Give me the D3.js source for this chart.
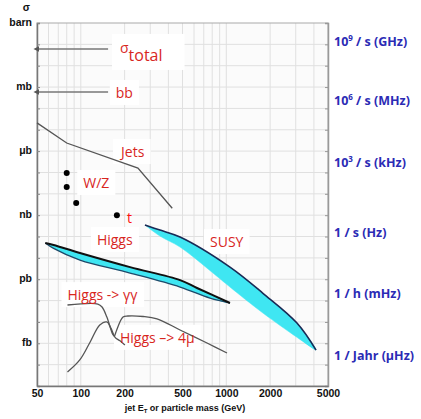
<!DOCTYPE html>
<html>
<head>
<meta charset="utf-8">
<script src="https://cdn.jsdelivr.net/npm/d3@7"></script>
<style>
  body { margin: 0; background: #fff; }
  svg { display: block; }
  .unit { font-family: "Liberation Sans", Arial, sans-serif; font-weight: bold; font-size: 10.5px; fill: #111; }
  .xtitle { font-family: "Liberation Sans", Arial, sans-serif; font-weight: bold; font-size: 9px; fill: #111; }
  .rate { font-family: "Open Sans", "Noto Sans", sans-serif; font-weight: bold; font-size: 12.5px; fill: #2b2bb5; }
  .lbl { font-family: "Open Sans", "Noto Sans", sans-serif; font-size: 14px; fill: #d8261e; }
</style>
</head>
<body>
<div id="chart"></div>
<script>
// --- Data (cross sections in pb, masses / E_T in GeV) ---
const xTicks = [50, 100, 200, 500, 1000, 2000, 5000];
const unitLabels = ["barn", "mb", "\u03bcb", "nb", "pb", "fb"];
const unitValues = [1e12, 1e9, 1e6, 1e3, 1, 1e-3];

// rate labels on the right (position given as equivalent sigma)
const rateLabels = [["10", "9", " / s (GHz)"], ["10", "6", " / s (MHz)"], ["10", "3", " / s (kHz)"],
                    ["1 / s (Hz)"], ["1 / h (mHz)"], ["1 / Jahr (\u03bcHz)"]];
const rateSigma = [1.3e11, 2.2e8, 2.8e5, 1.4e2, 0.2, 2.5e-4];

const sigmaTotal = 6.1e10;
const sigmaBB = 5.9e8;
const arrowFrom = 154; // GeV where the arrow lines start

const jets = [[50, 2.1e7], [80, 2.4e6], [247, 1.6e5], [425, 2.1e3]];
const wzPoints = [[80, 9.4e4], [80, 2.1e4], [93, 3.7e3]];
const topPoint = [177, 1e3];

const higgsUpper = [[57, 50], [65, 40], [98.7, 17], [218, 3.7], [481, 0.91], [629, 0.39], [1060, 0.077]];
const higgsLower = [[65, 28], [98.7, 7.9], [218, 1.95], [481, 0.43], [773, 0.13]];

const susyUpper = [[276, 346], [350, 200], [481, 95], [1060, 3.7], [1786, 0.22], [3060, 0.0089], [4140, 4.8e-4]];
const susyLower = [[350, 105], [481, 32], [810, 1.95], [1060, 0.43], [1786, 0.026], [3060, 0.0019]];

const higgsGG = [[81, 0.062], [131, 0.069], [140, 0.05], [151, 0.017], [166, 0.0026], [170, 0.0022],
                 [176, 0.004], [195, 0.017], [211, 0.019], [268, 0.018], [334, 0.014], [481, 0.0042],
                 [737, 0.00103], [1011, 3.5e-4]];
const higgs4mu = [[81, 4.5e-5], [98.7, 1.7e-4], [116, 1.15e-3], [135, 7.2e-3], [151, 0.010],
                  [161, 0.0051], [172, 0.0019], [186, 0.0013], [201, 8.3e-4]];

// label anchors (left edge in GeV, vertical centre in pb)
const labelData = [
    { text: "Jets", gev: 189, pb: 9.1e5 },
    { text: "W/Z", gev: 104, pb: 3.2e4, size: 15 },
    { text: "Higgs", gev: 129, pb: 69 },
    { text: "SUSY", gev: 773, pb: 55 },
    { text: "Higgs -> \u03b3\u03b3", gev: 81, pb: 0.18, size: 15 },
    { text: "Higgs \u2013> 4\u03bc", gev: 186, pb: 0.0018, size: 15 }
];

// --- Layout ---
const width = 421, height = 419;
const m = { left: 37, right: 328, top: 23, bottom: 386 };

const svg = d3.select("#chart").append("svg")
    .attr("width", width)
    .attr("height", height);

const x = d3.scaleLog().domain([50, 5000]).range([m.left, m.right]);
const y = d3.scaleLog().domain([1e-5, 1e12]).range([m.bottom, m.top]);

// --- Grid ---
const gridX = [];
[10, 100, 1000].forEach(d => { for (let k = 1; k < 10; k++) gridX.push(d * k); });
const gx = gridX.filter(v => v > 50 && v < 5000);
const gy = d3.range(-4, 12).map(e => Math.pow(10, e));

svg.append("rect")
    .attr("x", m.left).attr("y", m.top)
    .attr("width", m.right - m.left).attr("height", m.bottom - m.top)
    .attr("fill", "#fbfbfb");

svg.append("g").selectAll("line").data(gx).enter().append("line")
    .attr("x1", d => x(d)).attr("x2", d => x(d))
    .attr("y1", m.top).attr("y2", m.bottom)
    .attr("stroke", "#e0e0e0").attr("stroke-width", 1);

svg.append("g").selectAll("line").data(gy).enter().append("line")
    .attr("x1", m.left).attr("x2", m.right)
    .attr("y1", d => y(d)).attr("y2", d => y(d))
    .attr("stroke", "#e0e0e0").attr("stroke-width", 1);

// frame
svg.append("rect")
    .attr("x", m.left).attr("y", m.top)
    .attr("width", m.right - m.left).attr("height", m.bottom - m.top)
    .attr("fill", "none").attr("stroke", "#aaa").attr("stroke-width", 1);

// --- Axes ---
const yTicksAll = d3.range(-5, 13).map(e => Math.pow(10, e));
svg.append("g")
    .attr("transform", `translate(${m.left},0)`)
    .call(d3.axisRight(y).tickValues(yTicksAll).tickSize(3).tickFormat(""))
    .call(g => g.select(".domain").attr("stroke", "#777").attr("stroke-width", 1.5))
    .call(g => g.selectAll(".tick line").attr("stroke", "#888"));

svg.append("g")
    .attr("transform", `translate(${m.right},0)`)
    .call(d3.axisLeft(y).tickValues(yTicksAll).tickSize(3).tickFormat(""))
    .call(g => g.select(".domain").attr("stroke", "#999").attr("stroke-width", 1.5))
    .call(g => g.selectAll(".tick line").attr("stroke", "#999"));

svg.append("g")
    .attr("transform", `translate(0,${m.bottom})`)
    .call(d3.axisBottom(x).tickValues(xTicks).tickSize(0).tickPadding(4).tickFormat(d3.format("d")))
    .call(g => g.select(".domain").attr("stroke", "#777").attr("stroke-width", 1.5))
    .call(g => g.selectAll("text").attr("class", "unit").attr("font-size", null).attr("font-family", null).attr("fill", null));

const xTitle = svg.append("text")
    .attr("class", "xtitle")
    .attr("x", 185).attr("y", 411)
    .attr("text-anchor", "middle");
xTitle.append("tspan").text("jet E");
xTitle.append("tspan").attr("font-size", "6px").attr("dy", 2).text("T");
xTitle.append("tspan").attr("dy", -2).text(" or particle mass (GeV)");

// unit labels left
svg.append("g").selectAll("text").data(unitLabels).enter().append("text")
    .attr("class", "unit")
    .attr("x", 32)
    .attr("y", (d, i) => y(unitValues[i]) + 3)
    .attr("text-anchor", "end")
    .text(d => d);

svg.append("text")
    .attr("class", "unit")
    .attr("x", 30).attr("y", 11)
    .attr("text-anchor", "end")
    .attr("font-size", "7px")
    .text("\u03c3");

// rate labels right
svg.append("g").selectAll("text").data(rateLabels).enter().append("text")
    .attr("class", "rate")
    .attr("x", 334)
    .attr("y", (d, i) => y(rateSigma[i]) + 4)
    .each(function(d) {
        const t = d3.select(this);
        t.append("tspan").text(d[0]);
        if (d.length > 1) {
            t.append("tspan").attr("dy", -5).attr("font-size", "8px").text(d[1]);
            t.append("tspan").attr("dy", 5).text(d[2]);
        }
    });

// --- Label backgrounds + labels ---
const bgLayer = svg.append("g");
const markLayer = svg.append("g");
const textLayer = svg.append("g");

labelData.forEach(d => {
    const t = textLayer.append("text")
        .attr("class", "lbl")
        .attr("x", x(d.gev))
        .attr("y", y(d.pb) + 5)
        .attr("font-size", (d.size || 14) + "px")
        .text(d.text);
    const b = t.node().getBBox();
    bgLayer.append("rect")
        .attr("x", b.x - 6).attr("y", b.y - 3)
        .attr("width", b.width + 12).attr("height", b.height + 6)
        .attr("fill", "#fff");
});

// sigma total and bb labels
const sig = textLayer.append("text")
    .attr("class", "lbl")
    .attr("x", x(186)).attr("y", y(sigmaTotal) + 4)
    .attr("font-size", "18px")
    .text("\u03c3");
sig.append("tspan").attr("font-size", "16px").attr("dy", 8).text("total");
const sb = sig.node().getBBox();
bgLayer.append("rect").attr("x", sb.x - 8).attr("y", sb.y - 4)
    .attr("width", sb.width + 30).attr("height", sb.height + 8).attr("fill", "#fff");

const bb = textLayer.append("text")
    .attr("class", "lbl")
    .attr("x", x(174)).attr("y", y(sigmaBB) + 6)
    .attr("font-size", "17px")
    .text("bb");
const bbb = bb.node().getBBox();
bgLayer.append("rect").attr("x", bbb.x - 6).attr("y", bbb.y - 3)
    .attr("width", bbb.width + 12).attr("height", bbb.height + 6).attr("fill", "#fff");

textLayer.append("text")
    .attr("class", "lbl")
    .attr("x", x(208)).attr("y", y(topPoint[1]) + 8)
    .attr("font-size", "22px")
    .style("fill", "#ff1010")
    .text("t");

// --- Arrows ---
svg.append("defs").append("marker")
    .attr("id", "arr")
    .attr("viewBox", "0 0 10 10")
    .attr("refX", 1).attr("refY", 5)
    .attr("markerWidth", 4).attr("markerHeight", 4)
    .attr("orient", "auto-start-reverse")
    .append("path").attr("d", "M0,0 L10,5 L0,10 z").attr("fill", "#555");

[sigmaTotal, sigmaBB].forEach(v => {
    markLayer.append("line")
        .attr("x1", x(arrowFrom)).attr("x2", x(51.5))
        .attr("y1", y(v)).attr("y2", y(v))
        .attr("stroke", "#777").attr("stroke-width", 1.5)
        .attr("marker-end", "url(#arr)");
});

// --- Curves ---
const line = d3.line()
    .x(d => x(d[0]))
    .y(d => y(d[1]))
    .curve(d3.curveCatmullRom.alpha(0.5));

markLayer.append("path")
    .attr("d", d3.line().x(d => x(d[0])).y(d => y(d[1]))(jets))
    .attr("fill", "none").attr("stroke", "#555").attr("stroke-width", 1.3);

markLayer.append("path")
    .attr("d", line(higgsGG))
    .attr("fill", "none").attr("stroke", "#555").attr("stroke-width", 1.3);

markLayer.append("path")
    .attr("d", line(higgs4mu))
    .attr("fill", "none").attr("stroke", "#555").attr("stroke-width", 1.3);

// bands: closed outline = upper edge, then lower edge back to the tip
function band(upper, lower, edgeTop, edgeBottom) {
    const outline = upper.concat(lower.slice().reverse(), [upper[0]]);
    markLayer.append("path")
        .attr("d", line(outline) + "Z")
        .attr("fill", "#3fe6f2")
        .attr("stroke", "none");
    const last = upper[upper.length - 1];
    markLayer.append("path")
        .attr("d", line([upper[0]].concat(lower, [last])))
        .attr("fill", "none").attr("stroke", edgeBottom.c).attr("stroke-width", edgeBottom.w);
    markLayer.append("path")
        .attr("d", line(upper))
        .attr("fill", "none").attr("stroke", edgeTop.c).attr("stroke-width", edgeTop.w);
}

band(higgsUpper, higgsLower, { c: "#111", w: 2 }, { c: "#1d4a6a", w: 1.3 });
band(susyUpper, susyLower, { c: "#1a2a55", w: 1.6 }, { c: "#3fe6f2", w: 0.5 });

// --- Points ---
markLayer.selectAll("circle.wz").data(wzPoints.concat([topPoint])).enter()
    .append("circle")
    .attr("class", "wz")
    .attr("cx", d => x(d[0])).attr("cy", d => y(d[1]))
    .attr("r", 3).attr("fill", "#000");
</script>
</body>
</html>
